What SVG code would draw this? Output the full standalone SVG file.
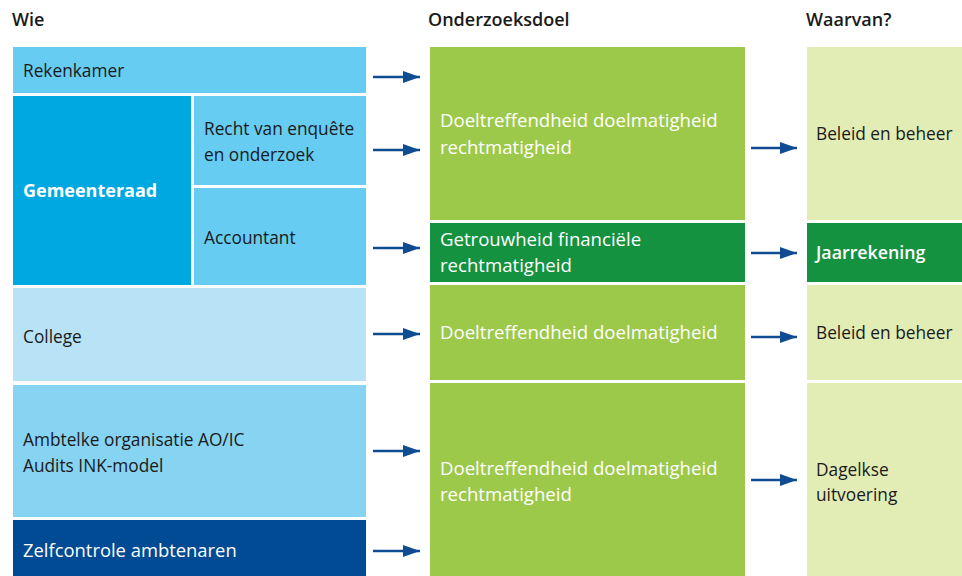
<svg xmlns="http://www.w3.org/2000/svg" width="962" height="576" viewBox="0 0 962 576">
<defs>
<marker id="ah" markerWidth="17" markerHeight="12" refX="17" refY="6" orient="auto" markerUnits="userSpaceOnUse">
<path d="M0,0 L17,6 L0,12 Z" fill="#0F4C92"/>
</marker>
<style>
text{font-family:"Open Sans","Liberation Sans",sans-serif;font-size:17.3px}
.h{font-weight:600;fill:#1a1a1a;font-size:18px}
.d{fill:#1a1a1a}
.w{fill:#fff;font-size:18.6px}
.z{fill:#fff;font-size:18.4px}
.b{fill:#fff;font-weight:700;font-size:18px}
.s{fill:#fff;font-weight:600;font-size:17.8px}
.c line{stroke:#0F4C92;stroke-width:2.5;marker-end:url(#ah)}
</style>
</defs>
<rect width="962" height="576" fill="#fff"/>
<text class="h" x="12" y="26">Wie</text>
<text class="h" x="428" y="26">Onderzoeksdoel</text>
<text class="h" x="806" y="26">Waarvan?</text>

<g id="rekenkamer"><rect x="13" y="47" width="353" height="46" fill="#66CCF2"/><text class="d" x="23" y="77">Rekenkamer</text></g>
<g id="gemeenteraad"><rect x="13" y="96" width="178" height="189" fill="#00A8E1"/><text class="b" x="23" y="197">Gemeenteraad</text></g>
<g id="recht"><rect x="194" y="96" width="172" height="89" fill="#66CCF2"/><text class="d" x="204" y="135">Recht van enquête</text><text class="d" x="204" y="161">en onderzoek</text></g>
<g id="accountant"><rect x="194" y="188" width="172" height="97" fill="#66CCF2"/><text class="d" x="204" y="244">Accountant</text></g>
<g id="college"><rect x="13" y="288" width="353" height="93" fill="#B8E3F6"/><text class="d" x="23" y="343">College</text></g>
<g id="ambtelke"><rect x="13" y="385" width="353" height="132" fill="#87D3F2"/><text class="d" x="23" y="446">Ambtelke organisatie AO/IC</text><text class="d" x="23" y="472">Audits INK-model</text></g>
<g id="zelfcontrole"><rect x="13" y="520" width="353" height="56" fill="#004B93"/><text class="z" x="23" y="557">Zelfcontrole ambtenaren</text></g>

<g id="doel1"><rect x="430" y="47" width="315" height="173" fill="#9DC94A"/><text class="w" x="440" y="127">Doeltreffendheid doelmatigheid</text><text class="w" x="440" y="154">rechtmatigheid</text></g>
<g id="getrouwheid"><rect x="430" y="223" width="315" height="59" fill="#14923F"/><text class="w" x="440" y="246">Getrouwheid financiële</text><text class="w" x="440" y="272">rechtmatigheid</text></g>
<g id="doel2"><rect x="430" y="285" width="315" height="95" fill="#9DC94A"/><text class="w" x="440" y="339">Doeltreffendheid doelmatigheid</text></g>
<g id="doel3"><rect x="430" y="383" width="315" height="193" fill="#9DC94A"/><text class="w" x="440" y="475">Doeltreffendheid doelmatigheid</text><text class="w" x="440" y="501">rechtmatigheid</text></g>

<g id="beleid1"><rect x="807" y="47" width="155" height="173" fill="#E2ECB5"/><text class="d" x="816" y="140">Beleid en beheer</text></g>
<g id="jaarrekening"><rect x="807" y="223" width="155" height="59" fill="#14923F"/><text class="s" x="816" y="259">Jaarrekening</text></g>
<g id="beleid2"><rect x="807" y="285" width="155" height="95" fill="#E2ECB5"/><text class="d" x="816" y="339">Beleid en beheer</text></g>
<g id="dagelkse"><rect x="807" y="383" width="155" height="193" fill="#E2ECB5"/><text class="d" x="816" y="476">Dagelkse</text><text class="d" x="816" y="501">uitvoering</text></g>

<g id="connectors" class="c">
<line x1="373" y1="77" x2="420" y2="77"/>
<line x1="373" y1="150" x2="420" y2="150"/>
<line x1="373" y1="248" x2="420" y2="248"/>
<line x1="373" y1="334" x2="420" y2="334"/>
<line x1="373" y1="451" x2="420" y2="451"/>
<line x1="373" y1="551" x2="420" y2="551"/>
<line x1="751" y1="148" x2="797" y2="148"/>
<line x1="751" y1="253" x2="797" y2="253"/>
<line x1="751" y1="337" x2="797" y2="337"/>
<line x1="751" y1="480" x2="797" y2="480"/>
</g>
</svg>
